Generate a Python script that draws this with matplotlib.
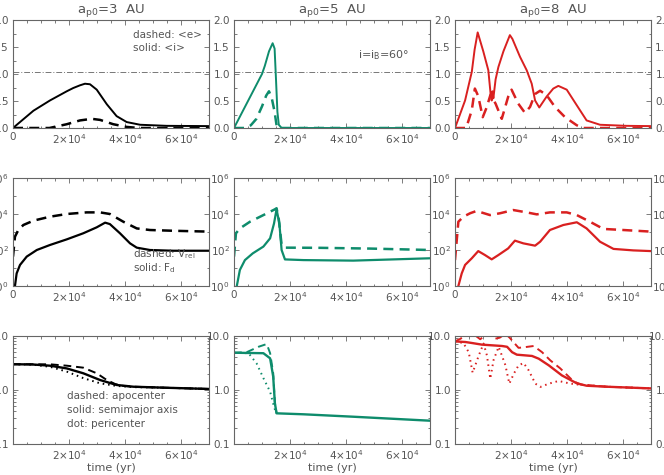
import numpy as np
import matplotlib
matplotlib.use('Agg')
import matplotlib.pyplot as plt
from matplotlib.ticker import MultipleLocator, FixedLocator, LogLocator, NullFormatter

plt.rcParams['font.family'] = 'DejaVu Sans'
plt.rcParams['mathtext.default'] = 'regular'

GRAY = '#555555'
colors = ['black', '#0e8c6c', '#d92020']
ap0 = ['3', '5', '8']

# ---- row 1: <i> (solid) and <e> (dashed); time in 1e4 yr ----
inc3_t = [0, 0.25, 0.73, 1.32, 1.92, 2.15, 2.39, 2.57, 2.75, 2.99, 3.15, 3.35, 3.7, 4.06, 4.54, 5.49, 7.0]
inc3 = [0, 0.11, 0.32, 0.51, 0.68, 0.74, 0.79, 0.82, 0.81, 0.71, 0.59, 0.44, 0.22, 0.11, 0.06, 0.04, 0.035]
ecc3_t = [0, 1.3, 1.92, 2.39, 2.81, 3.11, 3.58, 4.06, 4.5, 7.0]
ecc3 = [0, 0.0, 0.07, 0.14, 0.17, 0.15, 0.07, 0.02, 0.0, 0.0]

inc5_t = [0, 0.3, 0.6, 1.0, 1.1, 1.25, 1.38, 1.45, 1.5, 1.55, 1.6, 1.7, 7.0]
inc5 = [0, 0.3, 0.6, 1.0, 1.15, 1.42, 1.57, 1.47, 0.9, 0.3, 0.06, 0, 0]
ecc5_t = [0, 0.4, 0.6, 0.8, 1.0, 1.15, 1.25, 1.35, 1.45, 1.52, 1.6, 7.0]
ecc5 = [0, 0, 0.05, 0.17, 0.4, 0.6, 0.68, 0.55, 0.3, 0.05, 0, 0]

inc8_t = [0, 0.36, 0.6, 0.7, 0.81, 1.01, 1.19, 1.27, 1.31, 1.34, 1.37, 1.45, 1.55, 1.73, 1.96, 2.05,
          2.32, 2.56, 2.74, 2.86, 3.01, 3.27, 3.51, 3.69, 3.99, 4.35, 4.7, 5.18, 6.13, 7.0]
inc8 = [0, 0.51, 1.04, 1.45, 1.77, 1.42, 1.07, 0.64, 0.51, 0.68, 0.55, 0.9, 1.13, 1.42, 1.72, 1.65,
        1.32, 1.07, 0.82, 0.51, 0.38, 0.58, 0.73, 0.78, 0.71, 0.42, 0.14, 0.06, 0.04, 0.035]
ecc8_t = [0, 0.4, 0.6, 0.71, 0.83, 0.99, 1.13, 1.27, 1.45, 1.67, 1.9, 2.02, 2.26, 2.5, 2.68, 2.86,
          3.04, 3.27, 3.57, 3.93, 4.35, 4.58, 7.0]
ecc8 = [0, 0, 0.33, 0.73, 0.59, 0.2, 0.38, 0.62, 0.45, 0.17, 0.58, 0.71, 0.45, 0.28, 0.39, 0.63,
        0.69, 0.61, 0.39, 0.2, 0.05, 0, 0]

# ---- row 2: F_d (solid) and V_rel (dashed) ----
fd3_t = [0.07, 0.13, 0.25, 0.49, 0.85, 1.32, 1.92, 2.51, 2.99, 3.29, 3.46, 3.82, 4.18, 4.42, 4.89, 5.73, 7.0]
fd3 = [1.0, 5.0, 14.8, 43, 100, 190, 390, 850, 1820, 3310, 2750, 850, 234, 135, 100, 91, 91]
vr3_t = [0, 0.07, 0.19, 0.37, 0.73, 1.32, 1.92, 2.63, 3.11, 3.46, 3.94, 4.42, 4.89, 5.73, 7.0]
vr3 = [43, 550, 1290, 2450, 4270, 7080, 10000, 12300, 12300, 10000, 3720, 1580, 1290, 1170, 1050]

fd5_t = [0.1, 0.21, 0.39, 0.67, 1.05, 1.29, 1.43, 1.52, 1.62, 1.7, 1.82, 2.48, 4.26, 7.0]
fd5 = [1.0, 7.8, 27.5, 65, 155, 447, 3020, 18200, 3020, 100, 30, 27.5, 25.7, 34.7]
vr5_t = [0, 0.07, 0.21, 0.57, 1.05, 1.46, 1.52, 1.6, 1.7, 1.82, 3.07, 4.86, 7.0]
vr5 = [43, 850, 1580, 3720, 8710, 18200, 20900, 5010, 200, 135, 132, 120, 100]

fd8_t = [0.12, 0.24, 0.36, 0.6, 0.83, 1.07, 1.31, 1.55, 1.9, 2.14, 2.44, 2.86, 3.04, 3.39, 3.87,
         4.35, 4.7, 5.18, 5.66, 6.37, 7.0]
fd8 = [1.0, 5.0, 14.8, 34.7, 87, 52.5, 30.2, 52.5, 123, 331, 234, 174, 288, 1290, 2450,
       3470, 1580, 288, 115, 95, 87]
vr8_t = [0, 0.12, 0.3, 0.54, 0.77, 1.25, 1.61, 2.08, 2.56, 2.92, 3.39, 3.99, 4.35, 4.82, 5.3, 6.01, 7.0]
vr8 = [27.5, 3720, 7080, 11000, 14800, 8710, 11000, 16600, 12300, 9550, 12300, 12300, 8710, 3720,
       1480, 1290, 1050]

# ---- row 3: semimajor axis (solid), apocenter (dashed), pericenter (dotted) ----
a3_t = [0, 0.7, 1.32, 1.92, 2.51, 3.11, 3.7, 4.3, 5.49, 7.0]
a3 = [3.0, 2.97, 2.82, 2.51, 2.04, 1.53, 1.24, 1.15, 1.10, 1.045]
apo3_t = [0, 1.32, 1.92, 2.51, 2.99, 3.35, 3.65, 3.94, 4.3, 5.49, 7.0]
apo3 = [3.0, 2.99, 2.82, 2.59, 2.04, 1.53, 1.29, 1.19, 1.15, 1.10, 1.045]
peri3_t = [0, 0.7, 1.32, 1.92, 2.51, 3.11, 3.7, 4.3, 5.49, 7.0]
peri3 = [3.0, 2.95, 2.69, 2.19, 1.66, 1.33, 1.19, 1.13, 1.10, 1.045]

a5_t = [0, 1.05, 1.29, 1.4, 1.46, 1.52, 2.48, 4.26, 7.0]
a5 = [4.9, 4.8, 3.86, 1.77, 0.57, 0.37, 0.355, 0.32, 0.27]
apo5_t = [0, 0.45, 0.87, 1.17, 1.29, 1.4, 1.46, 1.52]
apo5 = [4.9, 5.0, 6.3, 7.1, 4.8, 2.04, 0.57, 0.37]
peri5_t = [0, 0.52, 0.81, 1.05, 1.29, 1.4, 1.5]
peri5 = [4.9, 4.8, 3.09, 1.66, 0.93, 0.56, 0.37]

a8_t = [0, 0.37, 0.61, 0.96, 1.68, 1.86, 2.04, 2.21, 2.75, 2.99, 3.35, 3.82, 4.35, 4.7, 5.42, 7.0]
a8 = [7.94, 7.74, 7.41, 6.92, 6.53, 6.31, 5.01, 4.51, 4.27, 3.80, 2.86, 1.86, 1.33, 1.20, 1.15, 1.07]
apo8_t = [0, 0.2, 0.4, 0.55, 0.75, 0.9, 1.05, 1.25, 1.44, 1.6, 1.8, 1.95, 2.1, 2.27, 2.45, 2.81,
          3.11, 3.4, 3.76, 4.23, 4.5, 5.42, 7.0]
apo8 = [7.94, 8.91, 10.7, 12.0, 10.0, 8.71, 10.0, 11.5, 8.91, 9.33, 11.0, 9.33, 7.59, 6.03, 6.17, 6.53,
        5.01, 3.55, 2.51, 1.45, 1.26, 1.15, 1.07]
peri8_t = [0, 0.3, 0.49, 0.63, 0.85, 1.02, 1.14, 1.26, 1.38, 1.56, 1.8, 1.94, 2.1, 2.27, 2.45, 2.63,
           2.87, 3.05, 3.35, 3.7, 4.1, 4.4, 5.42, 7.0]
peri8 = [7.94, 7.41, 5.01, 2.09, 4.37, 7.24, 4.37, 1.62, 3.63, 6.31, 2.88, 1.31, 2.0, 2.86, 3.16, 2.32,
         1.31, 1.14, 1.31, 1.47, 1.32, 1.26, 1.15, 1.07]

row1 = [((inc3_t, inc3), (ecc3_t, ecc3)), ((inc5_t, inc5), (ecc5_t, ecc5)), ((inc8_t, inc8), (ecc8_t, ecc8))]
row2 = [((fd3_t, fd3), (vr3_t, vr3)), ((fd5_t, fd5), (vr5_t, vr5)), ((fd8_t, fd8), (vr8_t, vr8))]
row3 = [((a3_t, a3), (apo3_t, apo3), (peri3_t, peri3)),
        ((a5_t, a5), (apo5_t, apo5), (peri5_t, peri5)),
        ((a8_t, a8), (apo8_t, apo8), (peri8_t, peri8))]

W, H = 664, 475
fig = plt.figure(figsize=(W / 100, H / 100), dpi=100)

col_left = [13, 234, 455, 676]   # 4th column is mostly off the canvas
row_top = [20, 178, 336]
aw, ah = 196, 108

fs = 7.5
xlabels = ['0', r'2$\times$10$^4$', r'4$\times$10$^4$', r'6$\times$10$^4$']


def style(ax):
    for s in ax.spines.values():
        s.set_color('#666666')
        s.set_linewidth(0.8)
    ax.tick_params(which='both', direction='in', top=True, right=True, colors='#666666',
                   labelcolor=GRAY, labelsize=fs, width=0.6)
    ax.tick_params(which='major', length=3.5, pad=3)
    ax.tick_params(which='minor', length=1.8)
    ax.set_xlim(0, 7e4)
    ax.set_xticks([0, 2e4, 4e4, 6e4])
    ax.xaxis.set_minor_locator(MultipleLocator(5e3))


for c in range(4):
    for r in range(3):
        ax = fig.add_axes([col_left[c] / W, 1 - (row_top[r] + ah) / H, aw / W, ah / H])
        style(ax)
        if r == 0:
            ax.set_ylim(0, 2.0)
            ax.yaxis.set_major_locator(MultipleLocator(0.5))
            ax.yaxis.set_minor_locator(MultipleLocator(0.25))
            ax.set_yticklabels(['0.0', '0.5', '1.0', '1.5', '2.0'])
            ax.set_yticks([0, 0.5, 1.0, 1.5, 2.0])
            ax.set_xticklabels(xlabels)
            ax.axhline(1.04, color='#777777', lw=0.7, ls=(0, (6, 2, 1, 2)))
        elif r == 1:
            ax.set_yscale('log')
            ax.set_ylim(1, 1e6)
            ax.yaxis.set_major_locator(FixedLocator([1, 1e2, 1e4, 1e6]))
            ax.yaxis.set_minor_locator(FixedLocator([10, 1e3, 1e5]))
            ax.yaxis.set_minor_formatter(NullFormatter())
            ax.set_yticklabels(['10$^0$', '10$^2$', '10$^4$', '10$^6$'])
            ax.set_xticklabels(xlabels)
        else:
            ax.set_yscale('log')
            ax.set_ylim(0.1, 10)
            ax.yaxis.set_major_locator(FixedLocator([0.1, 1, 10]))
            ax.yaxis.set_minor_locator(LogLocator(subs=np.arange(2, 10)))
            ax.yaxis.set_minor_formatter(NullFormatter())
            ax.set_yticklabels(['0.1', '1.0', '10.0'])
            ax.set_xticklabels([''] + xlabels[1:])
            ax.set_xlabel('time (yr)', color=GRAY, fontsize=fs + 0.5, labelpad=1)

        if c == 3:
            continue
        col = colors[c]
        if r == 0:
            ax.set_title(r'a$_{p0}$=' + ap0[c] + '  AU', color=GRAY, fontsize=9.5, pad=5)
            (ti, vi), (te, ve) = row1[c]
            ax.plot(np.array(ti) * 1e4, vi, color=col, lw=1.4)
            ax.plot(np.array(te) * 1e4, ve, color=col, lw=1.8, ls=(0, (4, 2.5)))
        elif r == 1:
            (tf, vf), (tv, vv) = row2[c]
            ax.plot(np.array(tf) * 1e4, vf, color=col, lw=1.6)
            ax.plot(np.array(tv) * 1e4, vv, color=col, lw=1.8, ls=(0, (4, 2.5)))
        else:
            (ta, va), (tq, vq), (tp, vp) = row3[c]
            ax.plot(np.array(tq) * 1e4, vq, color=col, lw=1.4, ls=(0, (4, 2.5)))
            ax.plot(np.array(tp) * 1e4, vp, color=col, lw=1.4, ls=(0, (0.8, 2)))
            ax.plot(np.array(ta) * 1e4, va, color=col, lw=1.7)

        if c == 0 and r == 0:
            ax.text(4.29e4, 1.72, 'dashed: <e>', color=GRAY, fontsize=fs, va='center')
            ax.text(4.29e4, 1.48, 'solid: <i>', color=GRAY, fontsize=fs, va='center')
        if c == 1 and r == 0:
            ax.text(4.43e4, 1.35, r'i=i$_B$=60$\degree$', color=GRAY, fontsize=fs + 0.5, va='center')
        if c == 0 and r == 1:
            ax.text(4.29e4, 60, r'dashed: V$_{rel}$', color=GRAY, fontsize=fs, va='center')
            ax.text(4.29e4, 9.6, r'solid: F$_d$', color=GRAY, fontsize=fs, va='center')
        if c == 0 and r == 2:
            ax.text(1.92e4, 0.78, 'dashed: apocenter', color=GRAY, fontsize=fs, va='center')
            ax.text(1.92e4, 0.43, 'solid: semimajor axis', color=GRAY, fontsize=fs, va='center')
            ax.text(1.92e4, 0.23, 'dot: pericenter', color=GRAY, fontsize=fs, va='center')

fig.savefig('out.png', dpi=100)
